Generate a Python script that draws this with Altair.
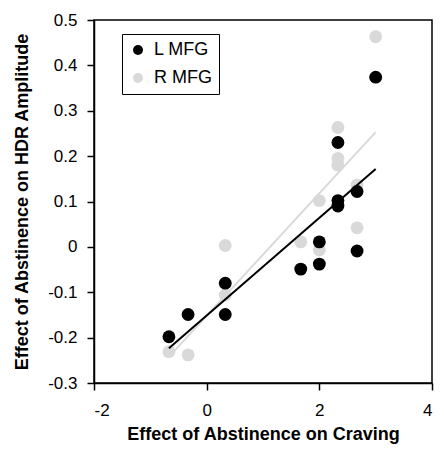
import altair as alt
import pandas as pd

# Effect of abstinence on craving (x) and on HDR amplitude (y)
l_x = [-0.67, -0.33, 0.33, 0.33, 1.67, 2.0, 2.0, 2.33, 2.33, 2.33, 2.67, 2.67, 3.0]
l_y = [-0.198, -0.149, -0.080, -0.149, -0.049, 0.011, -0.038, 0.230, 0.102, 0.090, 0.122, -0.009, 0.374]
r_x = [-0.67, -0.33, 0.33, 0.33, 1.67, 2.0, 2.0, 2.33, 2.33, 2.33, 2.67, 2.67, 3.0]
r_y = [-0.231, -0.238, 0.003, -0.106, 0.011, 0.102, -0.007, 0.263, 0.195, 0.180, 0.136, 0.042, 0.463]

series = ["L MFG", "R MFG"]
colors = ["#000000", "#d9d9d9"]
x_ticks = [-2, 0, 2, 4]
y_ticks = [-0.3, -0.2, -0.1, 0, 0.1, 0.2, 0.3, 0.4, 0.5]

df = pd.concat([
    pd.DataFrame({"x": l_x, "y": l_y, "series": series[0], "order": 2}),
    pd.DataFrame({"x": r_x, "y": r_y, "series": series[1], "order": 1}),
], ignore_index=True)

FONT = "Liberation Sans"

xenc = alt.X("x:Q", scale=alt.Scale(domain=[-2, 4], nice=False),
             axis=alt.Axis(values=x_ticks, title="Effect of Abstinence on Craving",
                           labelExpr="datum.value < 0 ? '-' + format(-datum.value, 'd') : format(datum.value, 'd')"))
yenc = alt.Y("y:Q", scale=alt.Scale(domain=[-0.3, 0.5], nice=False, zero=False),
             axis=alt.Axis(values=y_ticks, title="Effect of Abstinence on HDR Amplitude",
                           labelExpr="abs(datum.value) < 1e-9 ? '0' : (datum.value < 0 ? '-' + format(-datum.value, '.1f') : format(datum.value, '.1f'))"))
color = alt.Color("series:N", scale=alt.Scale(domain=series, range=colors),
                  legend=alt.Legend(title=None, orient="none", legendX=28, legendY=14,
                                    strokeColor="black", padding=7, symbolType="circle",
                                    symbolSize=100, labelFontSize=18, labelFont=FONT,
                                    labelOffset=7, rowPadding=10, fillColor="white",
                                    symbolStrokeWidth=0))

points = alt.Chart(df).mark_circle(size=165, opacity=1).encode(
    x=xenc, y=yenc, color=color, order=alt.Order("order:Q")
)

gray_line = alt.Chart(df).transform_filter(alt.datum.series == "R MFG").transform_regression(
    "x", "y").mark_line(strokeWidth=2, color="#d9d9d9").encode(x="x:Q", y="y:Q")
black_line = alt.Chart(df).transform_filter(alt.datum.series == "L MFG").transform_regression(
    "x", "y").mark_line(strokeWidth=2, color="#000000").encode(x="x:Q", y="y:Q")

chart = alt.layer(points, gray_line, black_line).properties(
    width=338, height=363,
    autosize=alt.AutoSizeParams(type="none"),
    padding={"left": 86, "top": 12, "right": 2, "bottom": 66},
).configure_view(
    stroke="black", strokeWidth=1.5
).configure_axis(
    grid=False, domainColor="black", domainWidth=1.5, tickColor="black", tickWidth=1.5,
    tickSize=7, labelFont=FONT, labelFontSize=17, labelColor="black",
    titleFont=FONT, titleFontSize=18, titleFontWeight="bold", titleColor="black",
).configure_axisY(
    labelPadding=10, titlePadding=16
).configure_axisX(
    labelPadding=12, titlePadding=7
)

chart.save("out.html", embed_options={"renderer": "svg", "actions": False})
